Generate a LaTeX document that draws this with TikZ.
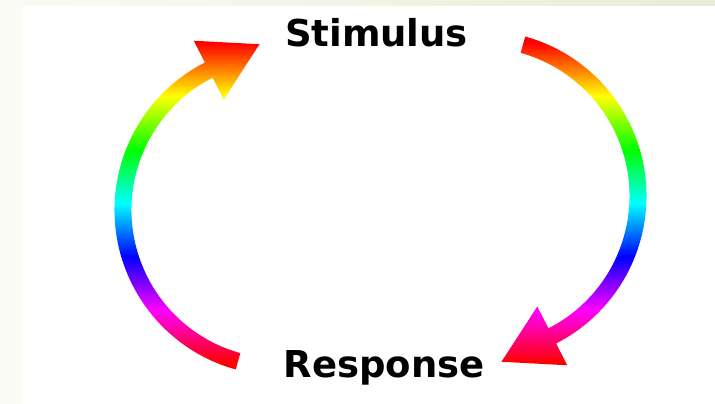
\documentclass[tikz,border=0pt]{standalone}
\usepackage{fontspec}
\setmainfont{DejaVu Sans}
\usetikzlibrary{calc}
\definecolor{bandleft}{RGB}{251,251,246}
\definecolor{bandright}{RGB}{232,236,214}
\pgfdeclareverticalshading{rainbow}{100bp}{color(0bp)=(red); color(27.9bp)=(red);
  color(35.3bp)=(magenta); color(42.7bp)=(blue); color(50.1bp)=(cyan);
  color(57.5bp)=(green); color(65bp)=(yellow); color(72.4bp)=(red); color(100bp)=(red)}
\begin{document}
\begin{tikzpicture}[x=1pt,y=1pt,
  lbl/.style={anchor=base,inner sep=0pt,font=\fontsize{37}{44}\selectfont\bfseries}]
\useasboundingbox (0,0) rectangle (715,404);
% background
\fill[white] (0,0) rectangle (715,404);
\fill[bandleft] (0,0) rectangle (22,398);
\shade[left color=bandleft,right color=bandright] (0,398) rectangle (715,404);
% labels
\node[lbl] (stim) at (376.5,357) {Stimulus};
\node[lbl] (resp) at (384,26) {Response};
\coordinate (lc) at (280,194);
\coordinate (rc) at (481,208);
% rainbow arrows
\begin{scope}
\clip ($(lc)+(254.5:165.5)$) arc[start angle=254.5,end angle=117,radius=165.5]
  -- ($(lc)+(117:190)$) -- ($(lc)+(117:157)+(27:57)$) -- ($(lc)+(117:124)$)
  -- ($(lc)+(117:148.5)$) arc[start angle=117,end angle=254.5,radius=148.5] -- cycle
  ($(rc)+(74.5:165.5)$) arc[start angle=74.5,end angle=-63,radius=165.5]
  -- ($(rc)+(-63:190)$) -- ($(rc)+(-63:157)+(207:57)$) -- ($(rc)+(-63:124)$)
  -- ($(rc)+(-63:148.5)$) arc[start angle=-63,end angle=74.5,radius=148.5] -- cycle;
\shade[shading=rainbow] (0,20) rectangle (715,380);
\end{scope}
\end{tikzpicture}
\end{document}
